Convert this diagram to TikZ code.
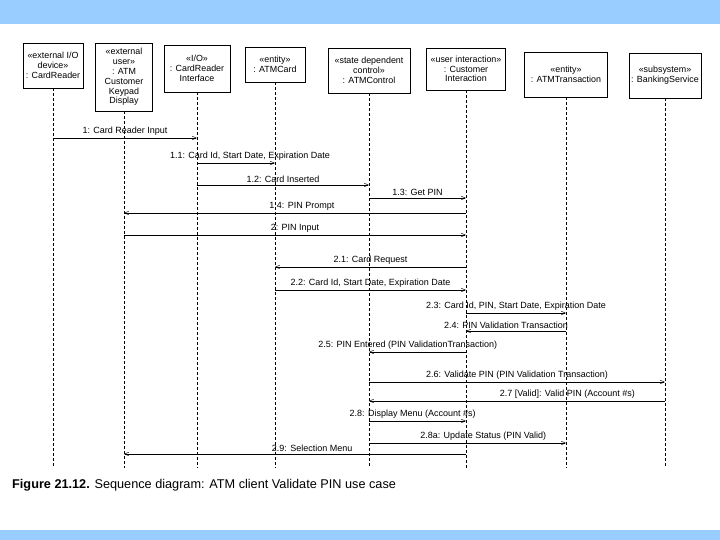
\documentclass[tikz,border=0pt]{standalone}
\usepackage{fontspec}
\setmainfont{Liberation Sans}
\usetikzlibrary{arrows}
\usetikzlibrary{positioning}
\definecolor{bandBlue}{HTML}{99CCFF}
\tikzstyle{objectBox} = [
                rectangle,
                draw=black,
                fill=white,
                align=center,
                inner sep=1pt,
                font=\fontsize{8.9}{9.8}\selectfont
            ]
\tikzstyle{lifeline} = [dash pattern=on 3pt off 2pt, line width=0.5pt]
\tikzstyle{arrow} = [->,>=angle 45,line width=0.5pt]
\tikzstyle{msgLabel} = [above, inner sep=2pt, font=\fontsize{9}{10}\selectfont]
\begin{document}
\begin{tikzpicture}[x=1pt, y=-1pt]
                            \useasboundingbox (0,0) rectangle (720,540);
                            \fill [bandBlue] (0,0) rectangle (720,24);
                            \fill [bandBlue] (0,530) rectangle (720,540);
                            % objects
                            \node (cr) [objectBox, minimum width=60pt, minimum height=45pt] at (53,65.5) {«external I/O\\device»\\: CardReader};
                            \node (kd) [objectBox, minimum width=57pt, minimum height=68pt] at (124,77) {«external\\user»\\: ATM\\Customer\\Keypad\\Display};
                            \node (cri) [objectBox, minimum width=66pt, minimum height=47pt] at (197,68.5) {«I/O»\\: CardReader\\Interface};
                            \node (ac) [objectBox, minimum width=60pt, minimum height=35pt] at (275,64.5) {«entity»\\: ATMCard};
                            \node (ctl) [objectBox, minimum width=82pt, minimum height=45pt] at (369,70.5) {«state dependent\\control»\\: ATMControl};
                            \node (ui) [objectBox, minimum width=79pt, minimum height=42pt] at (466,69) {«user interaction»\\: Customer\\Interaction};
                            \node (at) [objectBox, minimum width=83pt, minimum height=45pt] at (566,74.5) {«entity»\\: ATMTransaction};
                            \node (bs) [objectBox, minimum width=72pt, minimum height=45pt] at (665,75.5) {«subsystem»\\: BankingService};
                            % lifelines
                            \foreach \obj in {cr,kd,cri,ac,ctl,ui,at,bs} {
                                \coordinate (\obj-end) at (\obj |- 0,468);
                                \draw [lifeline] (\obj) -- (\obj-end);
                            }
                            % messages
                            \draw [arrow] (cr |- 0,138) -- node [msgLabel] {1: Card Reader Input} (cri |- 0,138);
                            \draw [arrow] (cri |- 0,163) -- node [msgLabel, pos=0.68] {1.1: Card Id, Start Date, Expiration Date} (ac |- 0,163);
                            \draw [arrow] (cri |- 0,185) -- node [msgLabel] {1.2: Card Inserted} (ctl |- 0,185);
                            \draw [arrow] (ctl |- 0,198) -- node [msgLabel] {1.3: Get PIN} (ui |- 0,198);
                            \draw [arrow] (ui |- 0,213) -- node [msgLabel, pos=0.48] {1.4: PIN Prompt} (kd |- 0,213);
                            \draw [arrow] (kd |- 0,235) -- node [msgLabel] {2: PIN Input} (ui |- 0,235);
                            \draw [arrow] (ui |- 0,267) -- node [msgLabel] {2.1: Card Request} (ac |- 0,267);
                            \draw [arrow] (ac |- 0,290) -- node [msgLabel] {2.2: Card Id, Start Date, Expiration Date} (ui |- 0,290);
                            \draw [arrow] (ui |- 0,313) -- node [msgLabel] {2.3: Card Id, PIN, Start Date, Expiration Date} (at |- 0,313);
                            \draw [arrow] (at |- 0,331) -- node [msgLabel, pos=0.6] {2.4: PIN Validation Transaction} (ui |- 0,331);
                            \draw [arrow] (ui |- 0,352) -- node [msgLabel, pos=0.6] {2.5: PIN Entered (PIN ValidationTransaction)} (ctl |- 0,352);
                            \draw [arrow] (ctl |- 0,382) -- node [msgLabel] {2.6: Validate PIN (PIN Validation Transaction)} (bs |- 0,382);
                            \draw [arrow] (bs |- 0,401) -- node [msgLabel, pos=0.33] {2.7 [Valid]: Valid PIN (Account \#s)} (ctl |- 0,401);
                            \draw [arrow] (ctl |- 0,421) -- node [msgLabel, pos=0.45] {2.8: Display Menu (Account \#s)} (ui |- 0,421);
                            \draw [arrow] (ctl |- 0,443) -- node [msgLabel, pos=0.58] {2.8a: Update Status (PIN Valid)} (at |- 0,443);
                            \draw [arrow] (ui |- 0,454) -- node [msgLabel, pos=0.45] {2.9: Selection Menu} (kd |- 0,454);
                            % caption
                            \node (caption) [anchor=base west, inner sep=0pt, font=\fontsize{12.7}{15}\selectfont] at (12,488) {\textbf{Figure 21.12.} Sequence diagram: ATM client Validate PIN use case};
                        \end{tikzpicture}
\end{document}
